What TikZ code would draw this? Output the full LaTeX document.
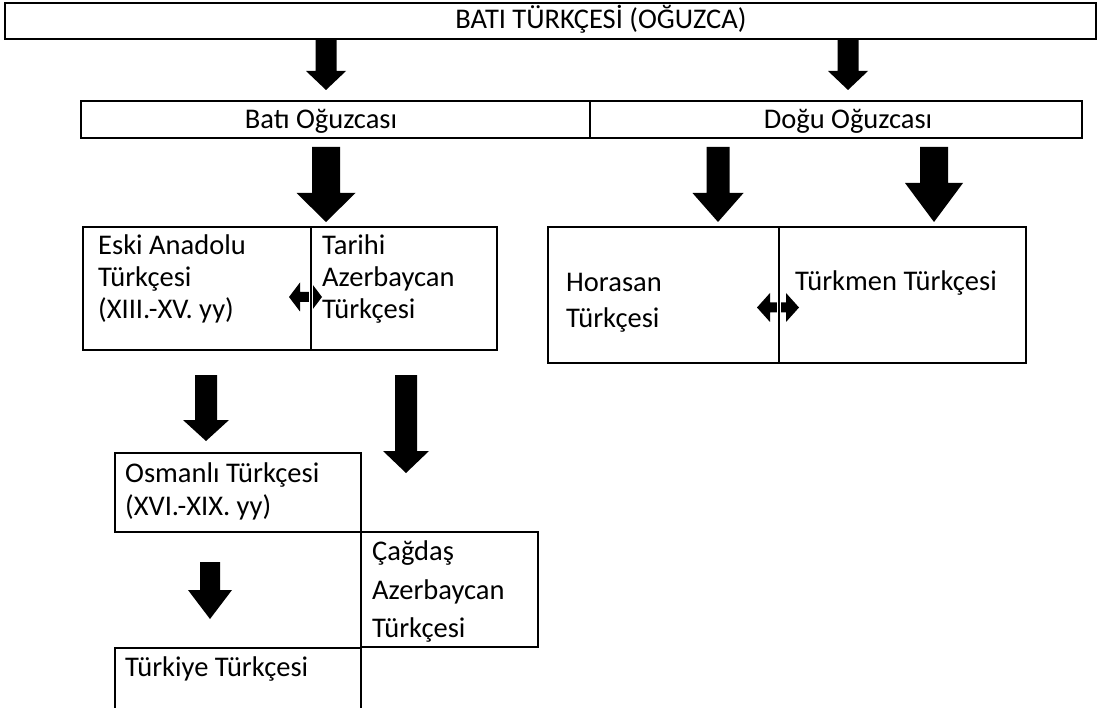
\documentclass[tikz,border=0pt]{standalone}
\usepackage{fontspec}
\setmainfont{Carlito}
\newcommand\blkdown[6]{% x, ytop, yhead, ytip, shafthalf, headhalf
  \fill ({#1-#5},#2) -- ({#1+#5},#2) -- ({#1+#5},#3) -- ({#1+#6},#3) -- (#1,#4)
        -- ({#1-#6},#3) -- ({#1-#5},#3) -- cycle;}
\newcommand\blkboth[6]{% x1, x2, yc, headlen, shafthalf, headhalf
  \fill (#1,#3) -- ({#1+#4},{#3-#6}) -- ({#1+#4},{#3-#5}) -- ({#2-#4},{#3-#5})
        -- ({#2-#4},{#3-#6}) -- (#2,#3) -- ({#2-#4},{#3+#6}) -- ({#2-#4},{#3+#5})
        -- ({#1+#4},{#3+#5}) -- ({#1+#4},{#3+#6}) -- cycle;}
\tikzset{
  boxline/.style={draw=black, line width=2.2pt},
  lbl/.style={inner sep=0pt, anchor=base west, font=\fontsize{28.5}{34}\selectfont},
  clbl/.style={inner sep=0pt, anchor=base, font=\fontsize{28.5}{34}\selectfont},
}
\begin{document}
\begin{tikzpicture}[x=1pt,y=-1pt]
\useasboundingbox (0,0) rectangle (1102,708);
% boxes
\draw[boxline] (5,3) rectangle (1096,39);
\draw[boxline] (81,101) rectangle (590,138);
\draw[boxline] (590,101) rectangle (1082,138);
\draw[boxline] (83,227) rectangle (497,350);
\draw[boxline] (548,227) rectangle (1026,363);
\draw[boxline] (115,453) rectangle (361,532);
\draw[boxline] (361,532) rectangle (538,647);
\draw[boxline] (115,720) -- (115,648) -- (361,648) -- (361,720);
% texts
\node[clbl] (bati) at (601,29) {BATI TÜRKÇESİ (OĞUZCA)};
\node[clbl] (batio) at (321,129) {Batı Oğuzcası};
\node[clbl] (dogu) at (848,129) {Doğu Oğuzcası};
\node[lbl] (eski1) at (98,255) {Eski Anadolu};
\node[lbl] (eski2) at (98,287) {Türkçesi};
\node[lbl] (eski3) at (98,319) {(XIII.-XV. yy)};
\node[lbl] (tar1) at (322,255) {Tarihi};
\node[lbl] (tar2) at (322,287) {Azerbaycan};
\node[lbl] (tar3) at (322,319) {Türkçesi};
\node[lbl] (hor1) at (566,292) {Horasan};
\node[lbl] (hor2) at (566,327) {Türkçesi};
\node[lbl] (turk) at (795,291) {Türkmen Türkçesi};
\node[lbl] (osm1) at (125,482) {Osmanlı Türkçesi};
\node[lbl] (osm2) at (125,515) {(XVI.-XIX. yy)};
\node[lbl] (cag1) at (372,560) {Çağdaş};
\node[lbl] (cag2) at (372,599) {Azerbaycan};
\node[lbl] (cag3) at (372,637) {Türkçesi};
\node[lbl] (tye) at (125,676) {Türkiye Türkçesi};
% down arrows
\blkdown{326}{39}{71}{90}{10.5}{20}
\blkdown{848}{39}{71}{90}{10.5}{20}
\blkdown{326}{147}{193}{222}{14}{29.5}
\blkdown{718}{147}{193}{222}{11.5}{25.5}
\blkdown{934}{147}{183}{222}{14}{29}
\blkdown{206}{375}{420}{441}{11}{23}
\blkdown{406}{375}{451}{473}{11}{23}
\blkdown{210}{562}{590}{619}{10}{22}
% double arrows
\blkboth{289}{322}{297}{11}{5}{14.5}
\blkboth{757}{799}{307.5}{13}{5}{14.5}
% dividers
\draw[white, line width=3.6pt] (311,283) -- (311,312);
\draw[white, line width=3.6pt] (779,293) -- (779,322);
\draw[boxline] (311,227) -- (311,350);
\draw[boxline] (779,227) -- (779,363);
\end{tikzpicture}
\end{document}
